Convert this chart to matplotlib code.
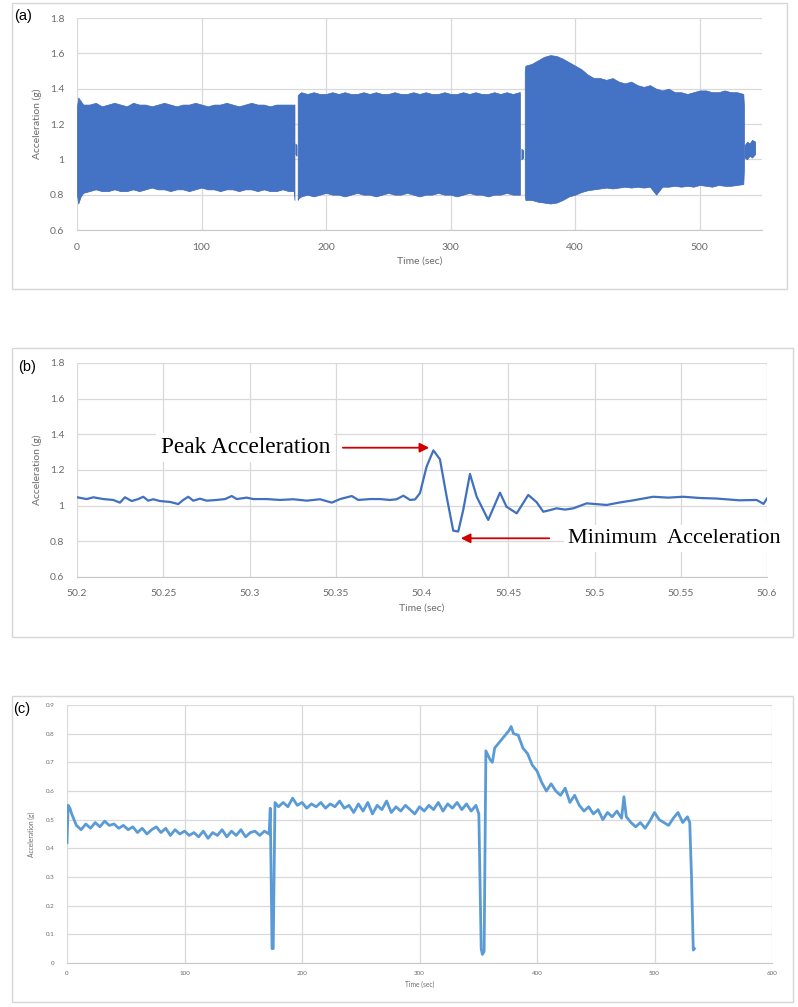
import numpy as np
import matplotlib
matplotlib.use('Agg')
import matplotlib.pyplot as plt
from matplotlib.patches import Rectangle
from matplotlib.ticker import FuncFormatter, MultipleLocator

# ---- (a) raw acceleration, drawn as the envelope of the dense oscillation ----
seg1_t = [0, 1, 3, 5, 10, 15, 20, 25, 30, 35, 40, 45, 50, 55, 60, 65, 70, 75, 80,
          85, 90, 95, 100, 105, 110, 115, 120, 125, 130, 135, 140, 145, 150, 155,
          160, 165, 170, 174, 174.6]
seg1_hi = [1.30, 1.35, 1.33, 1.31, 1.31, 1.32, 1.30, 1.31, 1.32, 1.31, 1.30, 1.32,
           1.31, 1.31, 1.30, 1.31, 1.32, 1.31, 1.30, 1.31, 1.31, 1.32, 1.31, 1.30,
           1.31, 1.31, 1.32, 1.31, 1.30, 1.31, 1.32, 1.31, 1.31, 1.30, 1.31, 1.31,
           1.31, 1.31, 1.31]
seg1_lo = [0.80, 0.75, 0.79, 0.81, 0.82, 0.83, 0.82, 0.82, 0.83, 0.82, 0.82, 0.83,
           0.82, 0.83, 0.84, 0.83, 0.83, 0.82, 0.83, 0.83, 0.82, 0.83, 0.84, 0.83,
           0.83, 0.82, 0.83, 0.83, 0.82, 0.83, 0.83, 0.82, 0.83, 0.82, 0.82, 0.83,
           0.82, 0.82, 0.77]
gap1_t, gap1_hi, gap1_lo = [175.3, 176.3], [1.09, 1.08], [1.03, 1.02]
seg2_t = [177.2, 178, 180, 185, 190, 195, 200, 205, 210, 215, 220, 225, 230, 235,
          240, 245, 250, 255, 260, 265, 270, 275, 280, 285, 290, 295, 300, 305, 310,
          315, 320, 325, 330, 335, 340, 345, 350, 355, 355.6]
seg2_hi = [1.36, 1.37, 1.38, 1.37, 1.38, 1.37, 1.37, 1.38, 1.37, 1.38, 1.37, 1.37,
           1.38, 1.37, 1.38, 1.37, 1.37, 1.38, 1.37, 1.37, 1.38, 1.37, 1.38, 1.37,
           1.37, 1.38, 1.37, 1.37, 1.38, 1.37, 1.38, 1.37, 1.37, 1.38, 1.37, 1.38,
           1.37, 1.38, 1.38]
seg2_lo = [0.77, 0.78, 0.79, 0.80, 0.79, 0.80, 0.81, 0.80, 0.80, 0.79, 0.80, 0.81,
           0.80, 0.80, 0.79, 0.80, 0.81, 0.80, 0.80, 0.81, 0.80, 0.79, 0.80, 0.80,
           0.81, 0.80, 0.80, 0.79, 0.80, 0.81, 0.80, 0.80, 0.79, 0.80, 0.80, 0.81,
           0.80, 0.80, 0.80]
gap2_t, gap2_hi, gap2_lo = [356.8, 358.3], [1.06, 1.05], [1.00, 1.01]
seg3_t = [359.5, 360, 365, 370, 375, 380, 385, 390, 395, 400, 405, 410, 415, 420,
          425, 430, 435, 440, 445, 450, 455, 460, 465, 470, 475, 480, 485, 490, 495,
          500, 505, 510, 515, 520, 525, 530, 535, 535.5]
seg3_hi = [1.50, 1.53, 1.54, 1.56, 1.58, 1.59, 1.585, 1.57, 1.55, 1.53, 1.51, 1.48,
           1.46, 1.46, 1.45, 1.46, 1.44, 1.43, 1.44, 1.42, 1.41, 1.42, 1.40, 1.39,
           1.40, 1.38, 1.38, 1.37, 1.38, 1.39, 1.39, 1.38, 1.38, 1.39, 1.38, 1.38,
           1.37, 1.30]
seg3_lo = [0.80, 0.77, 0.77, 0.76, 0.755, 0.75, 0.755, 0.77, 0.79, 0.80, 0.815,
           0.825, 0.83, 0.835, 0.84, 0.835, 0.84, 0.845, 0.84, 0.845, 0.84, 0.845,
           0.80, 0.845, 0.845, 0.85, 0.845, 0.85, 0.845, 0.855, 0.85, 0.845, 0.855,
           0.85, 0.85, 0.855, 0.86, 0.95]
tail_t = [536, 538, 540, 542, 544.5]
tail_hi = [1.08, 1.10, 1.09, 1.11, 1.10]
tail_lo = [1.01, 1.00, 1.02, 1.01, 1.03]

# ---- (b) zoom on a single impact ----
b_t = [50.2, 50.2056, 50.2095, 50.2153, 50.221, 50.2249, 50.2278, 50.2317, 50.2355,
       50.2384, 50.2413, 50.2442, 50.2481, 50.2539, 50.2587, 50.2616, 50.2645,
       50.2674, 50.2713, 50.2752, 50.281, 50.2858, 50.2897, 50.2926, 50.2984,
       50.3022, 50.31, 50.3177, 50.3254, 50.3332, 50.3409, 50.3477, 50.3525,
       50.3593, 50.3631, 50.3699, 50.3757, 50.3814, 50.3853, 50.3892, 50.3931,
       50.396, 50.3988, 50.4027, 50.4066, 50.4104, 50.4143, 50.4181, 50.421,
       50.4239, 50.4278, 50.4317, 50.4384, 50.4452, 50.449, 50.4549, 50.4616,
       50.4664, 50.4703, 50.4742, 50.478, 50.4829, 50.4877, 50.4955, 50.507,
       50.5147, 50.5225, 50.534, 50.5427, 50.5514, 50.5611, 50.5707, 50.584,
       50.594, 50.598, 50.6]
b_acc = [1.047, 1.037, 1.047, 1.037, 1.032, 1.017, 1.047, 1.026, 1.037, 1.05,
         1.028, 1.036, 1.026, 1.021, 1.009, 1.032, 1.05, 1.028, 1.039, 1.028,
         1.032, 1.037, 1.054, 1.037, 1.045, 1.037, 1.037, 1.032, 1.036, 1.028,
         1.036, 1.017, 1.037, 1.054, 1.032, 1.037, 1.037, 1.032, 1.036, 1.056,
         1.032, 1.035, 1.07, 1.22, 1.31, 1.26, 1.05, 0.86, 0.855, 0.976, 1.178,
         1.05, 0.92, 1.073, 0.994, 0.957, 1.06, 1.02, 0.966, 0.975, 0.985, 0.978,
         0.985, 1.013, 1.004, 1.018, 1.03, 1.05, 1.045, 1.05, 1.043, 1.04, 1.03,
         1.032, 1.01, 1.04]

# ---- (c) processed acceleration ----
c_t = [0, 1, 2.5, 4, 8, 12, 16, 20, 24, 28, 32, 36, 40, 44, 48, 52, 56, 60, 64,
       68, 72, 76, 80, 84, 88, 92, 96, 100, 104, 108, 112, 116, 120, 124, 128, 132,
       136, 140, 144, 148, 152, 156, 160, 164, 168, 172, 173, 174.5, 175.5, 177,
       180, 184, 188, 192, 196, 200, 204, 208, 212, 216, 220, 224, 228, 232, 236,
       240, 244, 248, 252, 256, 260, 264, 268, 272, 276, 280, 284, 288, 292, 296,
       300, 304, 308, 312, 316, 320, 324, 328, 332, 336, 340, 344, 348, 350.5,
       352.5, 353.5, 355, 356.5, 360, 362, 364, 368, 372, 376, 378, 380, 384, 388,
       392, 396, 400, 404, 408, 412, 416, 420, 424, 428, 432, 436, 440, 444, 448,
       452, 456, 460, 464, 468, 472, 474, 476, 480, 484, 488, 492, 496, 500, 504,
       508, 512, 516, 520, 524, 528, 530, 531.5, 533, 534]
c_acc = [0.42, 0.55, 0.54, 0.52, 0.48, 0.465, 0.485, 0.47, 0.49, 0.475, 0.495,
         0.48, 0.485, 0.47, 0.48, 0.465, 0.475, 0.455, 0.47, 0.45, 0.465, 0.475,
         0.455, 0.47, 0.445, 0.465, 0.45, 0.46, 0.445, 0.455, 0.44, 0.46, 0.435,
         0.455, 0.445, 0.465, 0.44, 0.46, 0.445, 0.465, 0.44, 0.455, 0.46, 0.445,
         0.46, 0.45, 0.54, 0.05, 0.05, 0.56,
         0.545, 0.56, 0.545, 0.575, 0.55, 0.56, 0.54, 0.555, 0.545, 0.56, 0.54,
         0.555, 0.545, 0.565, 0.54, 0.55, 0.525, 0.555, 0.53, 0.56, 0.52, 0.55,
         0.535, 0.565, 0.525, 0.545, 0.53, 0.55, 0.535, 0.52, 0.545, 0.53, 0.55,
         0.535, 0.56, 0.53, 0.555, 0.54, 0.56, 0.535, 0.555, 0.53, 0.55, 0.52,
         0.05, 0.03, 0.04, 0.74, 0.71, 0.70, 0.75, 0.77, 0.79, 0.81, 0.825, 0.80,
         0.795, 0.75, 0.73, 0.69, 0.67, 0.63, 0.60, 0.625, 0.60, 0.585, 0.61,
         0.56, 0.585, 0.55, 0.53, 0.545, 0.52, 0.535, 0.50, 0.525, 0.51, 0.53,
         0.505, 0.58, 0.51, 0.49, 0.475, 0.49, 0.47, 0.495, 0.525, 0.50, 0.49,
         0.48, 0.505, 0.525, 0.49, 0.51, 0.49, 0.30, 0.045, 0.05]

W, H = 798, 1007
GRID = '#d9d9d9'
TICK = '#6b6b6b'
plt.rcParams['font.family'] = ['Lato', 'DejaVu Sans']


def fr(x0, y0, x1, y1):
    """pixel box (top-left origin) -> figure-fraction rect"""
    return [x0 / W, 1 - y1 / H, (x1 - x0) / W, (y1 - y0) / H]


def style(ax, fs, padx, pady):
    ax.grid(True, color=GRID, lw=0.9)
    ax.set_axisbelow(True)
    for s in ['top', 'right', 'left']:
        ax.spines[s].set_visible(False)
    ax.spines['bottom'].set_color('#c8c8c8')
    ax.tick_params(length=0, labelsize=fs, labelcolor=TICK)
    ax.tick_params(axis='x', pad=padx)
    ax.tick_params(axis='y', pad=pady)
    fmt = FuncFormatter(lambda v, p: format(round(v, 3), 'g'))
    ax.xaxis.set_major_formatter(fmt)
    ax.yaxis.set_major_formatter(fmt)


fig = plt.figure(figsize=(W / 100, H / 100), dpi=100)
for x0, y0, x1, y1 in [(12, 3, 787, 289), (12, 348, 793, 637), (12, 696, 793, 1002)]:
    fig.patches.append(Rectangle((x0 / W, 1 - y1 / H), (x1 - x0) / W, (y1 - y0) / H,
                                 transform=fig.transFigure, fill=False,
                                 edgecolor='#d6d6d6', lw=1))

# (a)
ax = fig.add_axes(fr(77, 18, 762, 230))
blue_a = '#4472C4'
for t, hi, lo in [(seg1_t, seg1_hi, seg1_lo), (gap1_t, gap1_hi, gap1_lo),
                  (seg2_t, seg2_hi, seg2_lo), (gap2_t, gap2_hi, gap2_lo),
                  (seg3_t, seg3_hi, seg3_lo), (tail_t, tail_hi, tail_lo)]:
    ax.fill_between(t, lo, hi, color=blue_a, lw=0.5, edgecolor='#3e68b4')
ax.set_xlim(0, 550)
ax.set_ylim(0.6, 1.8)
ax.xaxis.set_major_locator(MultipleLocator(100))
ax.yaxis.set_major_locator(MultipleLocator(0.2))
style(ax, 7.5, 9, 9)
ax.set_xlabel('Time (sec)', fontsize=7.5, color=TICK, labelpad=4)
ax.set_ylabel('Acceleration (g)', fontsize=7.5, color=TICK, labelpad=6)
fig.text(14 / W, 1 - 16 / H, '(a)', fontsize=10.5, family='Liberation Sans', va='center')

# (b)
ax = fig.add_axes(fr(77, 363, 767, 577))
ax.plot(b_t, b_acc, color='#4170BE', lw=1.6)
ax.set_xlim(50.2, 50.6)
ax.set_ylim(0.6, 1.8)
ax.xaxis.set_major_locator(MultipleLocator(0.05))
ax.yaxis.set_major_locator(MultipleLocator(0.2))
style(ax, 7.5, 9, 9)
ax.set_xlabel('Time (sec)', fontsize=7.5, color=TICK, labelpad=4)
ax.set_ylabel('Acceleration (g)', fontsize=7.5, color=TICK, labelpad=6)
fig.text(18 / W, 1 - 367 / H, '(b)', fontsize=10.5, family='Liberation Sans', va='center')
arrow = dict(arrowstyle='-|>', color='#d00000', lw=1.3, mutation_scale=14)
ax.text(50.3467, 1.325, 'Peak Acceleration', family='Liberation Serif', fontsize=16.8,
        ha='right', va='center',
        bbox=dict(facecolor='white', edgecolor='none', pad=3))
ax.annotate('', xy=(50.4058, 1.325), xytext=(50.3525, 1.325), arrowprops=arrow)
ax.text(50.4846, 0.817, 'Minimum  Acceleration', family='Liberation Serif',
        fontsize=16, ha='left', va='center',
        bbox=dict(facecolor='white', edgecolor='none', pad=3))
ax.annotate('', xy=(50.4209, 0.817), xytext=(50.4754, 0.817), arrowprops=arrow)

# (c)
ax = fig.add_axes(fr(67, 705, 772, 963))
ax.plot(c_t, c_acc, color='#5B9BD5', lw=2.0)
ax.set_xlim(0, 600)
ax.set_ylim(0, 0.9)
ax.xaxis.set_major_locator(MultipleLocator(100))
ax.yaxis.set_major_locator(MultipleLocator(0.1))
style(ax, 4.5, 6, 9)
ax.set_xlabel('Time (sec)', fontsize=4.8, color=TICK, labelpad=3)
ax.set_ylabel('Acceleration (g)', fontsize=4.8, color=TICK, labelpad=8)
fig.text(13 / W, 1 - 709 / H, '(c)', fontsize=10.5, family='Liberation Sans', va='center')

fig.savefig('out.png', dpi=100)
